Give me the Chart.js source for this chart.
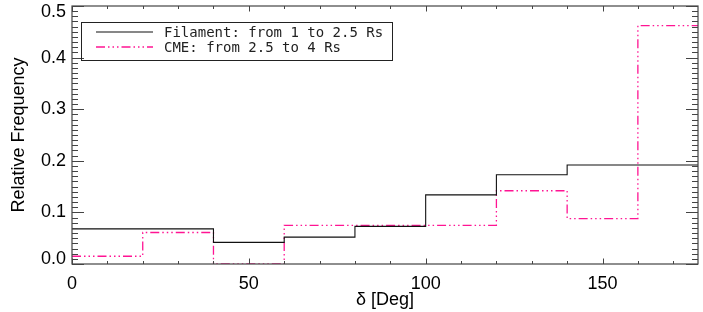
<!DOCTYPE html>
<html>
<head>
<meta charset="utf-8">
<script src="https://cdn.jsdelivr.net/npm/chart.js@4/dist/chart.umd.min.js"></script>
<style>
  html, body { margin:0; padding:0; background:#fff; }
  #wrap { width:703px; height:312px; }
</style>
</head>
<body>
<div id="wrap"><canvas id="c" width="703" height="312"></canvas></div>
<script>
// histogram bin edges (deg) and relative frequency per bin (last value closes the final bin)
const binEdges     = [0, 20, 40, 60, 80, 100, 120, 140, 160, 180];
const filamentFreq = [0.068, 0.068, 0.042, 0.052, 0.073, 0.134, 0.173, 0.192, 0.192, 0.192];
const cmeFreq      = [0.015, 0.061, 0.000, 0.075, 0.075, 0.075, 0.142, 0.088, 0.462, 0.462];
const seriesLabels = ['Filament: from 1 to 2.5 Rs', 'CME: from 2.5 to 4 Rs'];
const yTickValues  = [0.0, 0.1, 0.2, 0.3, 0.4, 0.5];
const xMajorStep = 50, xMinorStep = 10, yMinorStep = 0.01;

const AXIS_FONT = '"Liberation Sans", Arial, Helvetica, sans-serif';
const PINK = '#ff1493';

const toPts = (xs, ys) => xs.map((x, i) => ({ x, y: ys[i] }));

// frame, inward ticks, y tick labels and the boxed legend (IDL style)
const idlAxes = {
  id: 'idlAxes',
  afterDraw(chart) {
    const { ctx, chartArea: a, scales: { x, y } } = chart;
    ctx.save();
    ctx.strokeStyle = '#444';
    ctx.lineWidth = 1.2;
    ctx.strokeRect(a.left, a.top, a.right - a.left, a.bottom - a.top);

    ctx.lineWidth = 1;
    ctx.beginPath();
    // x ticks, bottom and top
    for (let v = x.min; v <= x.max + 1e-9; v += xMinorStep) {
      const px = Math.round(x.getPixelForValue(v)) + 0.5;
      const len = (Math.round(v) % xMajorStep === 0) ? 5.5 : 3;
      ctx.moveTo(px, a.bottom); ctx.lineTo(px, a.bottom - len);
      ctx.moveTo(px, a.top);    ctx.lineTo(px, a.top + len);
    }
    // y ticks, left and right
    for (let i = 0; i <= Math.round((y.max - y.min) / yMinorStep); i++) {
      const v = y.min + i * yMinorStep;
      const py = Math.round(y.getPixelForValue(v)) + 0.5;
      const len = (i % 10 === 0) ? 12 : 6;
      ctx.moveTo(a.left, py);  ctx.lineTo(a.left + len, py);
      ctx.moveTo(a.right, py); ctx.lineTo(a.right - len, py);
    }
    ctx.stroke();

    // y tick labels, kept inside the canvas at both ends
    ctx.fillStyle = '#000';
    ctx.font = '18px ' + AXIS_FONT;
    ctx.textAlign = 'right';
    ctx.textBaseline = 'middle';
    yTickValues.forEach(v => {
      const py = Math.min(Math.max(y.getPixelForValue(v), 12), 259);
      ctx.fillText(v.toFixed(1), a.left - 6, py);
    });

    // legend box
    const bx = a.left + 9, by = a.top + 16, bw = 311, bh = 38;
    ctx.strokeStyle = '#222';
    ctx.lineWidth = 1;
    ctx.strokeRect(bx + 0.5, by + 0.5, bw, bh);
    ctx.font = '14px "DejaVu Sans Mono", monospace';
    ctx.textAlign = 'left';
    chart.data.datasets.forEach((ds, i) => {
      const ly = by + 10 + i * 15;
      ctx.strokeStyle = ds.borderColor;
      ctx.lineWidth = ds.borderWidth;
      ctx.setLineDash(ds.borderDash || []);
      ctx.beginPath();
      ctx.moveTo(bx + 15, ly); ctx.lineTo(bx + 72, ly);
      ctx.stroke();
      ctx.setLineDash([]);
      ctx.fillStyle = '#222';
      ctx.fillText(ds.label, bx + 83, ly + 1);
    });
    ctx.restore();
  }
};

new Chart(document.getElementById('c'), {
  type: 'line',
  data: {
    datasets: [
      { label: seriesLabels[0], data: toPts(binEdges, filamentFreq),
        borderColor: '#111', borderWidth: 1.1, stepped: true, pointRadius: 0, fill: false },
      { label: seriesLabels[1], data: toPts(binEdges, cmeFreq),
        borderColor: PINK, borderWidth: 1.3, borderDash: [9, 3, 1.5, 3, 1.5, 3, 1.5, 3],
        stepped: true, pointRadius: 0, fill: false },
    ]
  },
  options: {
    responsive: false,
    animation: false,
    layout: { padding: { top: 6, right: 5, bottom: 0, left: 0 } },
    plugins: { legend: { display: false }, tooltip: { enabled: false } },
    scales: {
      x: {
        type: 'linear', min: 0, max: 177,
        grid: { display: false, drawTicks: false },
        border: { display: false },
        ticks: { stepSize: xMajorStep, includeBounds: false, padding: 9, color: '#000',
                 font: { family: AXIS_FONT, size: 18 } },
        title: { display: true, text: 'δ [Deg]', color: '#000',
                 font: { family: AXIS_FONT, size: 18 }, padding: { top: 0, bottom: 1 } },
        afterFit: s => { s.height = 48; }
      },
      y: {
        type: 'linear', min: 0, max: 0.5,
        grid: { display: false, drawTicks: false },
        border: { display: false },
        ticks: { display: false },
        title: { display: true, text: 'Relative Frequency', color: '#000',
                 font: { family: AXIS_FONT, size: 18 }, padding: { top: 8, bottom: 0 } },
        afterFit: s => { s.width = 72; }
      }
    }
  },
  plugins: [idlAxes]
});
</script>
</body>
</html>
